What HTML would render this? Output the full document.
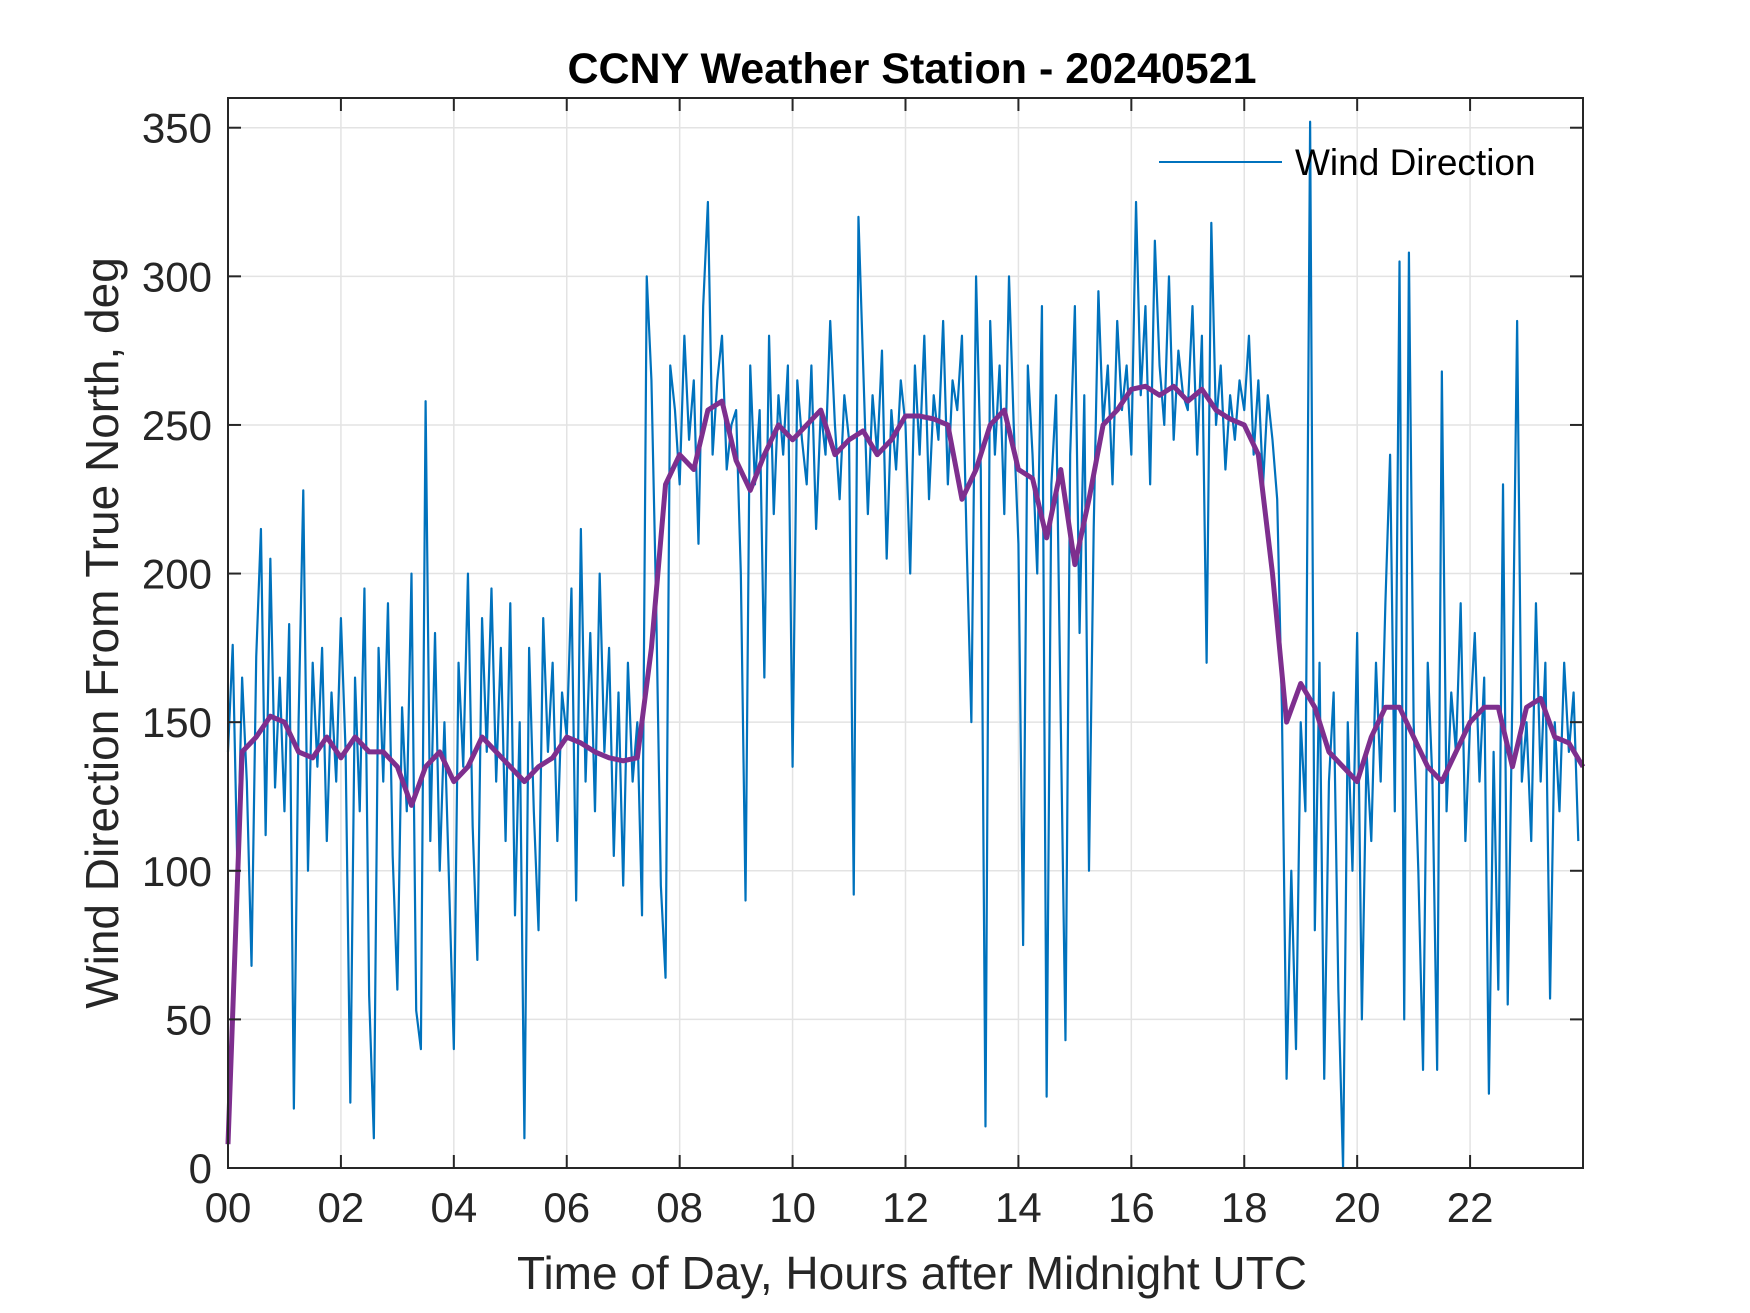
<!DOCTYPE html>
<html><head><meta charset="utf-8"><style>
html,body{margin:0;padding:0;background:#fff;}
svg{display:block;font-family:"Liberation Sans",sans-serif;}
</style></head><body>
<svg id="chart" width="1750" height="1313" viewBox="0 0 1750 1313" xmlns="http://www.w3.org/2000/svg">
<rect width="1750" height="1313" fill="#fff"/>
<g id="grid"></g>
<g id="plot"></g>
<g id="axes"></g>
<text x="912" y="83" text-anchor="middle" font-size="43" font-weight="bold" fill="#000">CCNY Weather Station - 20240521</text>
<text x="912" y="1289" text-anchor="middle" font-size="46" fill="#262626">Time of Day, Hours after Midnight UTC</text>
<text transform="translate(118,633) rotate(-90)" text-anchor="middle" font-size="46" fill="#262626">Wind Direction From True North, deg</text>
<g>
<line x1="1159" y1="162" x2="1282" y2="162" stroke="#0072BD" stroke-width="2"/>
<text x="1295" y="175" font-size="37" fill="#000">Wind Direction</text>
</g>
</svg>
<script>
const xTicks = [0,2,4,6,8,10,12,14,16,18,20,22];
const xTickLabels = ["00","02","04","06","08","10","12","14","16","18","20","22"];
const yTicks = [0,50,100,150,200,250,300,350];
const windDir = [
140,176,100,165,130,68,172,215,112,205,128,165,
120,183,20,150,228,100,170,135,175,110,160,130,
185,140,22,165,120,195,58,10,175,130,190,105,
60,155,120,200,53,40,258,110,180,100,150,95,
40,170,135,200,115,70,185,140,195,130,175,110,
190,85,150,10,175,120,80,185,140,170,110,160,
145,195,90,215,130,180,120,200,140,175,105,160,
95,170,130,150,85,300,265,190,95,64,270,255,
230,280,245,265,210,290,325,240,265,280,235,250,
255,200,90,270,230,255,165,280,220,260,240,270,
135,265,245,230,270,215,255,240,285,250,225,260,
245,92,320,270,220,260,240,275,205,255,235,265,
250,200,270,240,280,225,260,245,285,230,265,255,
280,210,150,300,235,14,285,240,270,220,300,250,
210,75,270,240,200,290,24,230,260,150,43,240,
290,180,260,100,215,295,250,270,230,285,255,270,
240,325,260,290,230,312,270,250,300,245,275,260,
255,290,240,280,170,318,250,270,235,260,245,265,
255,280,240,265,230,260,245,225,155,30,100,40,
150,120,352,80,170,30,130,160,60,0,150,100,
180,50,140,110,170,130,190,240,120,305,50,308,
150,100,33,170,130,33,268,120,160,140,190,110,
150,180,130,165,25,140,60,230,55,160,285,130,
150,110,190,130,170,57,150,120,170,140,160,110
];
const windAvg = [
8,140,145,152,150,140,138,145,138,145,140,140,
135,122,135,140,130,135,145,140,135,130,135,138,
145,143,140,138,137,138,175,230,240,235,255,258,
238,228,240,250,245,250,255,240,245,248,240,245,
253,253,252,250,225,235,250,255,235,232,212,235,
203,225,250,255,262,263,260,263,258,262,255,252,
250,240,200,150,163,155,140,135,130,145,155,155,
145,135,130,140,150,155,155,135,155,158,145,143,135
];
const L=228,R=1583,T=98,B=1168,XMAX=24,YMAX=360;
const xs=h=>L+(R-L)*h/XMAX, ys=v=>B-(B-T)*v/YMAX;
const NS="http://www.w3.org/2000/svg";
function mk(tag,attrs,parent){const e=document.createElementNS(NS,tag);for(const k in attrs)e.setAttribute(k,attrs[k]);parent.appendChild(e);return e;}
const grid=document.getElementById('grid'),plot=document.getElementById('plot'),axes=document.getElementById('axes');
xTicks.concat([24]).forEach((t,i)=>{
  const g=mk('line',{x1:xs(t),x2:xs(t),y1:T,y2:B,stroke:'#e3e3e3','stroke-width':1.5},grid);
  
  
  [[B,B-13],[T,T+13]].forEach(p=>{const tk=mk('line',{x1:xs(t),x2:xs(t),y1:p[0],y2:p[1],stroke:'#262626','stroke-width':2},axes);
    
    });
  if(i<xTickLabels.length){const tx=mk('text',{x:xs(t),y:B+54,'text-anchor':'middle','font-size':42,fill:'#262626'},axes);tx.textContent=xTickLabels[i];
    
    }
});
yTicks.forEach(t=>{
  const g=mk('line',{x1:L,x2:R,y1:ys(t),y2:ys(t),stroke:'#e3e3e3','stroke-width':1.5},grid);
  
  
  [[L,L+13],[R,R-13]].forEach(p=>{const tk=mk('line',{x1:p[0],x2:p[1],y1:ys(t),y2:ys(t),stroke:'#262626','stroke-width':2},axes);
    
    });
  const tx=mk('text',{x:L-16,y:ys(t)+15,'text-anchor':'end','font-size':42,fill:'#262626'},axes);tx.textContent=String(t);
  
  
});
const box=mk('rect',{x:L,y:T,width:R-L,height:B-T,fill:'none',stroke:'#262626','stroke-width':2},axes);


const s1=XMAX/windDir.length;
const p1=mk('polyline',{points:windDir.map((v,i)=>xs(i*s1)+','+ys(v)).join(' '),fill:'none',stroke:'#0072BD','stroke-width':2.2,'stroke-linejoin':'round'},plot);


const s2=XMAX/(windAvg.length-1);
const p2=mk('polyline',{points:windAvg.map((v,i)=>xs(i*s2)+','+ys(v)).join(' '),fill:'none',stroke:'#7E2F8E','stroke-width':5,'stroke-linejoin':'round'},plot);


</script>
</body></html>
